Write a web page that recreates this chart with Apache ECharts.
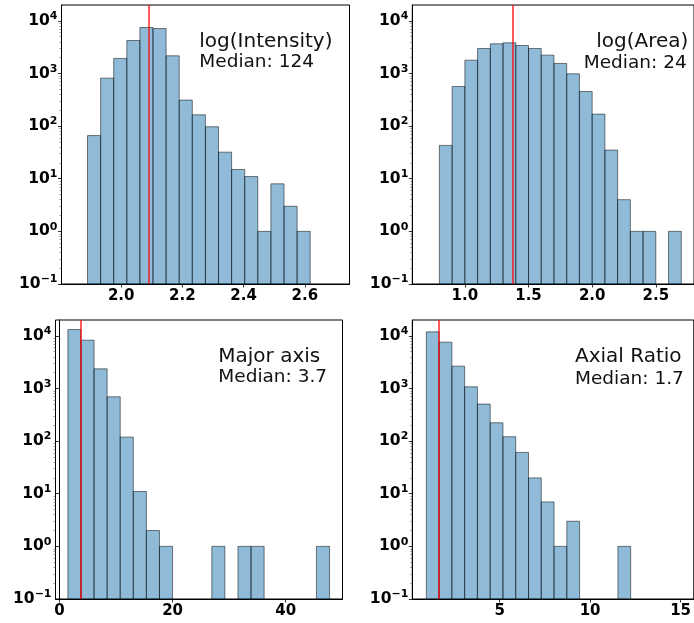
<!DOCTYPE html>
<html>
<head>
<meta charset="utf-8" />
<title>histograms</title>
<script src="https://cdn.jsdelivr.net/npm/echarts@6/dist/echarts.min.js"></script>
<style>
  html, body { margin: 0; padding: 0; background: #fff; }
  #main { width: 694px; height: 623px; }
</style>
</head>
<body>
<div id="main"></div>
<script>
// bin counts (log y)
var intensityCounts = [66, 815, 1930, 4230, 7470, 7140, 2165, 312, 164, 97, 32, 15, 11, 1, 8, 3, 1];
var intensityStart = 1.890, intensityWidth = 0.0428;
var intensityMedian = 2.0934;   // log10(124)

var areaCounts = [43, 566, 1790, 2985, 3660, 3820, 3400, 2985, 2230, 1550, 985, 455, 169, 35, 4, 1, 1, 0, 1];
var areaStart = 0.8, areaWidth = 0.1;
var areaMedian = 1.38;          // log10(24)

var majorCounts = [13200, 8270, 2360, 695, 119, 11, 2, 1, 0, 0, 0, 1, 0, 1, 1, 0, 0, 0, 0, 1];
var majorStart = 1.48, majorWidth = 2.314;
var majorMedian = 3.7;

var ratioCounts = [11900, 7580, 2655, 1076, 505, 223, 121, 61, 20, 7, 1, 3, 0, 0, 0, 1];
var ratioStart = 0.946, ratioWidth = 0.706;
var ratioMedian = 1.65;

var xTicks = [[2.0, 2.2, 2.4, 2.6], [1.0, 1.5, 2.0, 2.5], [0, 20, 40], [5, 10, 15]];
var yTicks = [0.1, 1, 10, 100, 1000, 10000];

var panels = [
  {counts: intensityCounts, start: intensityStart, w: intensityWidth, med: intensityMedian, xmin: 1.805, xmax: 2.746,
   title: 'log(Intensity)', sub: 'Median: 124'},
  {counts: areaCounts, start: areaStart, w: areaWidth, med: areaMedian, xmin: 0.587, xmax: 2.80,
   title: 'log(Area)', sub: 'Median: 24'},
  {counts: majorCounts, start: majorStart, w: majorWidth, med: majorMedian, xmin: -0.71, xmax: 50.05,
   title: 'Major axis', sub: 'Median: 3.7'},
  {counts: ratioCounts, start: ratioStart, w: ratioWidth, med: ratioMedian, xmin: 0.17, xmax: 15.73,
   title: 'Axial Ratio', sub: 'Median: 1.7'}
];

var YMIN = 0.1, YMAX = 2e4;
var FONT = 'DejaVu Sans';

// minor ticks 2..9 x 10^n
var minorTicks = [];
for (var e = -1; e <= 4; e++) {
  for (var m = 2; m <= 9; m++) {
    var v = m * Math.pow(10, e);
    if (v < YMAX) minorTicks.push(v);
  }
}

var grids = [
  {left: 61.5, top: 5, width: 288, height: 279},
  {left: 412.3, top: 5, width: 288, height: 279},
  {left: 55.5, top: 320, width: 287, height: 279},
  {left: 412.3, top: 320, width: 288, height: 279}
];

function supLabel(v) {
  var e = Math.round(Math.log10(v));
  return '{b|10}{s|' + (e < 0 ? '\u2212' + (-e) : e) + '}';
}

var xAxes = [], yAxes = [], series = [];
panels.forEach(function (p, i) {
  xAxes.push({
    type: 'value', gridIndex: i, min: p.xmin, max: p.xmax,
    splitLine: {show: false},
    axisLine: {show: true, onZero: false, lineStyle: {color: '#000', width: 1}},
    axisTick: {show: true, length: 3.5, lineStyle: {color: '#000', width: 0.8}, customValues: xTicks[i]},
    axisLabel: {customValues: xTicks[i], color: '#000', fontFamily: FONT, fontWeight: 'bold', fontSize: 15, margin: 5,
      formatter: function (v) { return (i < 2) ? v.toFixed(1) : String(v); }}
  });
  yAxes.push({
    type: 'log', logBase: 10, gridIndex: i, min: YMIN, max: YMAX,
    splitLine: {show: false},
    axisLine: {show: true, lineStyle: {color: '#000', width: 1}},
    axisTick: {show: true, length: 3.5, lineStyle: {color: '#000', width: 0.8}, customValues: yTicks},
    axisLabel: {customValues: yTicks, color: '#000', margin: 4, formatter: supLabel,
      rich: {
        b: {fontFamily: FONT, fontWeight: 'bold', fontSize: 15.5, color: '#000'},
        s: {fontFamily: FONT, fontWeight: 'bold', fontSize: 11, color: '#000', padding: [0, 0, 9, 0]}
      }}
  });
  // minor ticks axis
  yAxes.push({
    type: 'log', logBase: 10, gridIndex: i, min: YMIN, max: YMAX, position: 'left',
    splitLine: {show: false}, axisLine: {show: false},
    axisTick: {show: true, length: 2, lineStyle: {color: '#555', width: 0.6}, customValues: minorTicks},
    axisLabel: {show: false}
  });

  var data = [];
  p.counts.forEach(function (c, k) {
    if (c > 0) data.push([p.start + k * p.w, p.start + (k + 1) * p.w, c]);
  });
  series.push({
    type: 'custom', xAxisIndex: i, yAxisIndex: 2 * i, data: data,
    renderItem: function (params, api) {
      var a = api.coord([api.value(0), api.value(2)]);
      var b = api.coord([api.value(1), YMIN]);
      return {type: 'rect', shape: {x: a[0], y: a[1], width: b[0] - a[0], height: b[1] - a[1]},
        style: {fill: 'rgba(31,119,180,0.5)', stroke: 'rgba(0,0,0,0.5)', lineWidth: 1}};
    },
    markLine: {
      silent: true, symbol: 'none', animation: false,
      label: {show: false},
      lineStyle: {color: '#ff0000', width: 1.5, type: 'solid', opacity: 0.85},
      data: [{xAxis: p.med}]
    }
  });
});

var texts = [
  {x: 199.3, y: 42.2, t: panels[0].title, size: 20, align: 'left'},
  {x: 199.3, y: 62.5, t: panels[0].sub, size: 18.5, align: 'left'},
  {x: 688.3, y: 41.3, t: panels[1].title, size: 20, align: 'right'},
  {x: 686.7, y: 62.8, t: panels[1].sub, size: 18.5, align: 'right'},
  {x: 218.3, y: 356.5, t: panels[2].title, size: 20, align: 'left'},
  {x: 218.3, y: 377.3, t: panels[2].sub, size: 18.5, align: 'left'},
  {x: 575, y: 356.5, t: panels[3].title, size: 20, align: 'left'},
  {x: 575, y: 378.7, t: panels[3].sub, size: 18.5, align: 'left'}
];

var chart = echarts.init(document.getElementById('main'));
chart.setOption({
  animation: false,
  grid: grids.map(function (g) {
    return Object.assign({show: true, borderColor: '#000', borderWidth: 1, backgroundColor: 'transparent'}, g);
  }),
  xAxis: xAxes,
  yAxis: yAxes,
  series: series,
  graphic: texts.map(function (t) {
    return {type: 'text', x: t.x, y: t.y, z: 100,
      style: {text: t.t, fill: '#111', font: t.size + 'px "' + FONT + '"', align: t.align, verticalAlign: 'middle'}};
  })
});
</script>
</body>
</html>
